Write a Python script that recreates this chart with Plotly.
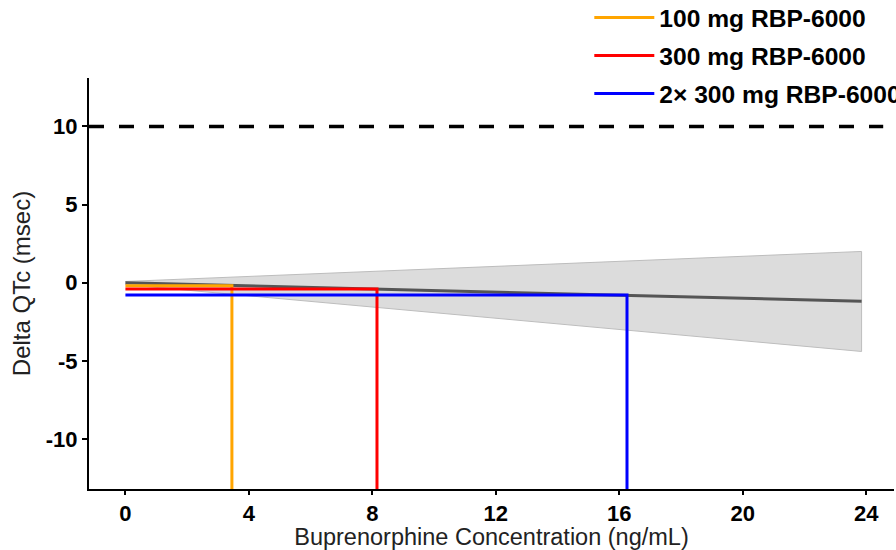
import plotly.graph_objects as go

# Exposure-response model (linear)
pred_conc = [0, 23.85]
pred_dqtc = [0.0, -1.19]
ci_upper = [0.08, 2.0]
ci_lower = [-0.12, -4.4]

# Dose groups: Cmax and predicted delta QTc
dose_labels = ["100 mg RBP-6000", "300 mg RBP-6000", "2× 300 mg RBP-6000"]
dose_cmax = [3.45, 8.15, 16.25]
dose_dqtc = [-0.19, -0.40, -0.79]
dose_colors = ["#FFA500", "#FF0000", "#0000FF"]

threshold = 10
threshold_end = 24.55
x_ticks = [0, 4, 8, 12, 16, 20, 24]
y_ticks = [-10, -5, 0, 5, 10]
y_ticktext = ["-10", "-5", "0", "5", "10"]
x_range = [-1.18, 24.9]
y_range = [-13.2, 13.1]

fig = go.Figure()

# confidence band
fig.add_trace(go.Scatter(
    x=pred_conc + pred_conc[::-1], y=ci_upper + ci_lower[::-1],
    fill="toself", fillcolor="#dcdcdc", line=dict(color="#bdbdbd", width=1),
    mode="lines", showlegend=False, hoverinfo="skip"))
fig.add_trace(go.Scatter(
    x=pred_conc, y=pred_dqtc, mode="lines",
    line=dict(color="#555555", width=3), showlegend=False))

# threshold
fig.add_trace(go.Scatter(
    x=[x_range[0], threshold_end], y=[threshold, threshold], mode="lines",
    line=dict(color="black", width=3.5, dash="15px,15px"), showlegend=False))

for lab, cm, dq, col in zip(dose_labels, dose_cmax, dose_dqtc, dose_colors):
    fig.add_trace(go.Scatter(
        x=[0, cm, cm], y=[dq, dq, y_range[0]], mode="lines",
        line=dict(color=col, width=3), name=lab, legendgroup=lab))

fig.update_layout(
    width=896, height=550,
    paper_bgcolor="white", plot_bgcolor="white",
    margin=dict(l=89, r=2, t=78, b=61, autoexpand=False),
    font=dict(family="Arial, Liberation Sans, sans-serif", color="black"),
    legend=dict(x=0.6215, y=1.202, xanchor="left", yanchor="top",
                font=dict(size=24.6, color="black", family="Arial, Liberation Sans, sans-serif", weight="bold"),
                tracegroupgap=3, itemwidth=60, bgcolor="rgba(0,0,0,0)"),
    xaxis=dict(range=x_range, tickvals=x_ticks, showgrid=False, zeroline=False,
               showline=True, linecolor="black", linewidth=2, automargin=False,
               ticks="outside", ticklen=4, tickwidth=2, tickcolor="black",
               tickfont=dict(size=22, color="black", weight="bold"),
               title=dict(text="Buprenorphine Concentration (ng/mL)",
                          font=dict(size=23.5, color="#222222"), standoff=6)),
    yaxis=dict(range=y_range, tickvals=y_ticks, ticktext=y_ticktext,
               showgrid=False, zeroline=False,
               showline=True, linecolor="black", linewidth=2, automargin=False,
               ticks="outside", ticklen=5, tickwidth=2, tickcolor="black",
               tickfont=dict(size=22, color="black", weight="bold"),
               title=dict(text="Delta QTc (msec)",
                          font=dict(size=24, color="#222222"), standoff=8)),
)

fig.write_html("out.html", config={"displayModeBar": False},
               post_script="document.body.style.margin='0px';")
